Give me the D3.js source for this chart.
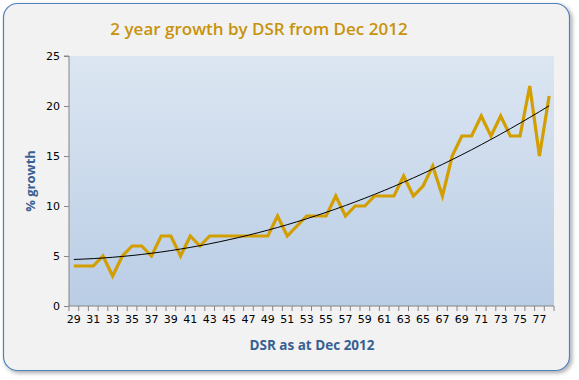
<!DOCTYPE html>
<html><head><meta charset="utf-8">
<script src="https://cdn.jsdelivr.net/npm/d3@7"></script>
<style>body{margin:0;background:#fff;}svg{display:block;}</style>
</head><body>
<script>
const categories = d3.range(29, 79);
const growth = [4,4,4,5,3,5,6,6,5,7,7,5,7,6,7,7,7,7,7,7,7,9,7,8,9,9,9,11,9,10,10,11,11,11,13,11,12,14,11,15,17,17,19,17,19,17,17,22,15,21];
const yTicks = [0,5,10,15,20,25];
const xLabels = categories.filter((d,i)=>i%2===0);

const W=579,H=380;
const svg=d3.select("body").append("svg").attr("width",W).attr("height",H);
const defs=svg.append("defs");
const f=defs.append("filter").attr("id","sh").attr("x","-5%").attr("y","-5%").attr("width","110%").attr("height","110%");
f.append("feDropShadow").attr("dx",2).attr("dy",2).attr("stdDeviation",2).attr("flood-color","#000").attr("flood-opacity",0.35);
const g=defs.append("linearGradient").attr("id","bg").attr("x1",0).attr("y1",0).attr("x2",0).attr("y2",1);
g.append("stop").attr("offset","0%").attr("stop-color","#DCE6F2");
g.append("stop").attr("offset","100%").attr("stop-color","#B9CDE5");

svg.append("rect").attr("x",3.5).attr("y",3.5).attr("width",566).attr("height",367).attr("rx",14)
  .attr("fill","#F2F2F2").attr("stroke","#4F81BD").attr("stroke-width",1.2).attr("filter","url(#sh)");

const L=69,R=554,T=56,B=306;
const x=d3.scaleBand().domain(categories).range([L,R]);
const y=d3.scaleLinear().domain([0,25]).range([B,T]);

svg.append("rect").attr("x",L).attr("y",T).attr("width",R-L).attr("height",B-T).attr("fill","url(#bg)");

const ya=svg.append("g").attr("transform",`translate(${L},0)`)
  .call(d3.axisLeft(y).tickValues(yTicks).tickSize(5).tickPadding(4));
const xa=svg.append("g").attr("transform",`translate(0,${B})`)
  .call(d3.axisBottom(x).tickValues(xLabels).tickSize(0).tickPadding(9));
svg.append("g").selectAll("line").data(d3.range(categories.length+1)).join("line")
  .attr("x1",i=>L+i*x.step()).attr("x2",i=>L+i*x.step()).attr("y1",B).attr("y2",B+5)
  .attr("stroke","#868686");
[ya,xa].forEach(a=>{a.selectAll("path,line").attr("stroke","#868686");
  a.selectAll("text").attr("font-family","DejaVu Sans, Verdana, sans-serif").attr("font-size","11px").attr("fill","#000");});
ya.select(".domain").attr("d",`M-5,${T}H0V${B}`);
xa.select(".domain").attr("d",`M${L},0H${R}`);

const cx=(d)=>x(d)+x.bandwidth()/2;
svg.append("path").datum(growth)
  .attr("d",d3.line().x((d,i)=>cx(categories[i])).y(d=>y(d)))
  .attr("fill","none").attr("stroke","#D39E00").attr("stroke-width",3.2).attr("stroke-linejoin","miter");

// polynomial (order 2) trendline by least squares
const n=growth.length; const xs=d3.range(1,n+1);
let S=[0,0,0,0,0],Ty=[0,0,0];
xs.forEach((xv,i)=>{for(let k=0;k<5;k++)S[k]+=xv**k; for(let k=0;k<3;k++)Ty[k]+=growth[i]*xv**k;});
function solve(A,b){const m=A.map((r,i)=>[...r,b[i]]);const N=b.length;
  for(let i=0;i<N;i++){let p=i;for(let r=i+1;r<N;r++)if(Math.abs(m[r][i])>Math.abs(m[p][i]))p=r;[m[i],m[p]]=[m[p],m[i]];
    for(let r=0;r<N;r++)if(r!==i){const fct=m[r][i]/m[i][i];for(let c=i;c<=N;c++)m[r][c]-=fct*m[i][c];}}
  return m.map((r,i)=>r[N]/r[i]);}
const coef=solve([[S[0],S[1],S[2]],[S[1],S[2],S[3]],[S[2],S[3],S[4]]],Ty);
const trend=xs.map(xv=>coef[0]+coef[1]*xv+coef[2]*xv*xv);
svg.append("path").datum(trend)
  .attr("d",d3.line().x((d,i)=>cx(categories[i])).y(d=>y(d)))
  .attr("fill","none").attr("stroke","#000").attr("stroke-width",1);

svg.append("text").attr("x",259).attr("y",35).attr("text-anchor","middle")
  .attr("font-family","Open Sans, sans-serif").attr("font-weight","600").attr("font-size","17px")
  .attr("fill","#C8930C").text("2 year growth  by DSR from Dec 2012");
svg.append("text").attr("x",312).attr("y",350).attr("text-anchor","middle")
  .attr("font-family","Open Sans, sans-serif").attr("font-weight","bold").attr("font-size","13.5px")
  .attr("fill","#376092").text("DSR as at Dec 2012");
svg.append("text").attr("transform","translate(35,181) rotate(-90)").attr("text-anchor","middle")
  .attr("font-family","Open Sans, sans-serif").attr("font-weight","bold").attr("font-size","13px")
  .attr("fill","#376092").text("% growth");
</script>
</body></html>
